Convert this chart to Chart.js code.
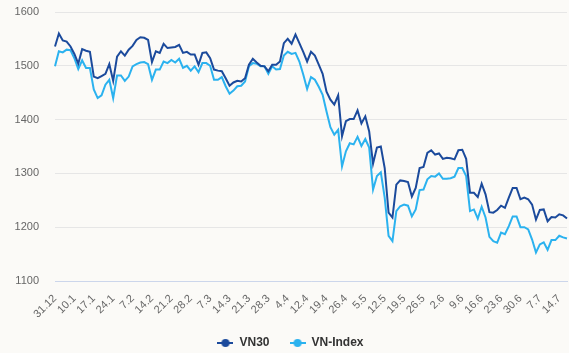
<!DOCTYPE html>
<html><head><meta charset="utf-8">
<script src="https://cdn.jsdelivr.net/npm/chart.js@4"></script>
<style>html,body{margin:0;padding:0;background:#fbfaf7;}#wrap{width:569px;height:353px;}</style>
</head><body><div id="wrap"><canvas id="c" width="569" height="353"></canvas></div>
<script>
const dates = ['31.12','4.1','5.1','6.1','7.1','10.1','11.1','12.1','13.1','14.1','17.1','18.1','19.1','20.1','21.1','24.1','25.1','26.1','27.1','28.1',
'7.2','8.2','9.2','10.2','11.2','14.2','15.2','16.2','17.2','18.2','21.2','22.2','23.2','24.2','25.2','28.2',
'1.3','2.3','3.3','4.3','7.3','8.3','9.3','10.3','11.3','14.3','15.3','16.3','17.3','18.3','21.3','22.3','23.3','24.3','25.3','28.3','29.3','30.3','31.3',
'1.4','4.4','5.4','6.4','7.4','8.4','12.4','13.4','14.4','15.4','18.4','19.4','20.4','21.4','22.4','25.4','26.4','27.4','28.4','29.4',
'4.5','5.5','6.5','9.5','10.5','11.5','12.5','13.5','16.5','17.5','18.5','19.5','20.5','23.5','24.5','25.5','26.5','27.5','30.5','31.5',
'1.6','2.6','3.6','6.6','7.6','8.6','9.6','10.6','13.6','14.6','15.6','16.6','17.6','20.6','21.6','22.6','23.6','24.6','27.6','28.6','29.6','30.6',
'1.7','4.7','5.7','6.7','7.7','8.7','11.7','12.7','13.7','14.7','15.7','18.7'];

const vn30 = [1536,1560,1547,1545,1536,1522,1504,1531,1528,1526,1480,1477,1481,1485,1503,1472,1517,1527,1519,1530,
1537,1548,1553,1552,1548,1507,1527,1524,1541,1533,1534,1535,1539,1524,1526,1521,
1521,1502,1524,1525,1514,1493,1491,1490,1477,1463,1469,1472,1471,1477,1502,1513,1506,1500,1499,1490,1502,1502,1508,
1542,1550,1541,1558,1542,1526,1508,1526,1519,1502,1485,1452,1437,1428,1445,1369,1397,1401,1401,1417,
1393,1406,1378,1318,1348,1350,1310,1227,1218,1279,1287,1286,1284,1257,1273,1310,1312,1338,1343,1335,
1337,1327,1329,1328,1326,1343,1344,1327,1264,1264,1256,1281,1261,1228,1227,1232,1240,1236,1255,1273,1273,1252,
1255,1252,1242,1214,1232,1233,1211,1219,1218,1224,1222,1216];

const vnIndex = [1499,1527,1525,1530,1529,1514,1494,1510,1496,1496,1456,1440,1445,1465,1474,1440,1482,1482,1472,1480,
1499,1503,1506,1507,1503,1474,1493,1493,1508,1505,1511,1506,1513,1496,1500,1491,
1499,1488,1505,1505,1500,1474,1474,1479,1462,1448,1454,1462,1463,1471,1499,1505,1504,1499,1499,1485,1499,1493,1494,
1519,1526,1522,1524,1508,1484,1457,1479,1474,1461,1446,1415,1386,1372,1381,1313,1341,1356,1354,1368,
1351,1364,1348,1270,1295,1302,1255,1184,1174,1230,1239,1242,1240,1220,1233,1269,1270,1289,1295,1294,
1300,1290,1290,1291,1294,1310,1310,1295,1230,1233,1216,1238,1218,1182,1174,1171,1190,1187,1202,1220,1220,1200,
1200,1196,1177,1153,1168,1172,1158,1176,1176,1184,1181,1179];

const seriesNames = ['VN30','VN-Index'];
const seriesColors = ['#1b4a9c','#2bb2ef'];
const yMin = 1100, yMax = 1600, yStep = 100;
const labelEvery = 5;

const FONT = "'Liberation Sans', Arial, Helvetica, sans-serif";

function makeSymbol(color){
  const c = document.createElement('canvas');
  c.width = 16; c.height = 10;
  const g = c.getContext('2d');
  g.strokeStyle = color; g.lineWidth = 2;
  g.beginPath(); g.moveTo(0,5); g.lineTo(16,5); g.stroke();
  g.fillStyle = color;
  g.beginPath(); g.arc(8,5,4,0,Math.PI*2); g.fill();
  return c;
}
const symbols = seriesColors.map(makeSymbol);

const bgPlugin = {
  id:'bg',
  beforeDraw(chart){
    const ctx = chart.ctx;
    ctx.save(); ctx.fillStyle = '#fbfaf7';
    ctx.fillRect(0,0,chart.width,chart.height); ctx.restore();
  }
};

new Chart(document.getElementById('c'), {
  type:'line',
  data:{
    labels: dates,
    datasets:[
      {label:seriesNames[0], data:vn30, borderColor:seriesColors[0], backgroundColor:seriesColors[0], borderWidth:2, pointRadius:0, tension:0, fill:false},
      {label:seriesNames[1], data:vnIndex, borderColor:seriesColors[1], backgroundColor:seriesColors[1], borderWidth:2, pointRadius:0, tension:0, fill:false}
    ]
  },
  options:{
    responsive:false, animation:false, devicePixelRatio:1,
    layout:{padding:{left:14, right:2, top:12, bottom:-6}},
    scales:{
      x:{
        grid:{display:false},
        border:{display:true, color:'#ccd6eb', width:1},
        afterFit(scale){ scale.height = 36; scale.paddingLeft = 0; scale.paddingRight = 0; },
        ticks:{autoSkip:false, minRotation:45, maxRotation:45, padding:3, color:'#666666',
          font:{family:FONT, size:11},
          callback:(v,i)=> (i % labelEvery === 0 ? dates[i] : null)}
      },
      y:{
        min:yMin, max:yMax,
        afterFit(scale){ scale.width = 41; scale.paddingTop = 0; scale.paddingBottom = 0; },
        grid:{color:'#e6e6e6', drawTicks:false, lineWidth:1},
        border:{display:false},
        ticks:{stepSize:yStep, padding:16, color:'#666666', font:{family:FONT, size:11},
          callback:(v)=> String(v)}
      }
    },
    plugins:{
      legend:{
        position:'bottom',
        labels:{
          usePointStyle:true, pointStyleWidth:16, padding:20, color:'#333333',
          font:{family:FONT, size:12, weight:'bold'},
          generateLabels(chart){
            const items = Chart.defaults.plugins.legend.labels.generateLabels(chart);
            items.forEach((it,i)=>{ it.pointStyle = symbols[i]; });
            return items;
          }
        }
      },
      tooltip:{enabled:false}
    }
  },
  plugins:[bgPlugin]
});
</script>
</body></html>
